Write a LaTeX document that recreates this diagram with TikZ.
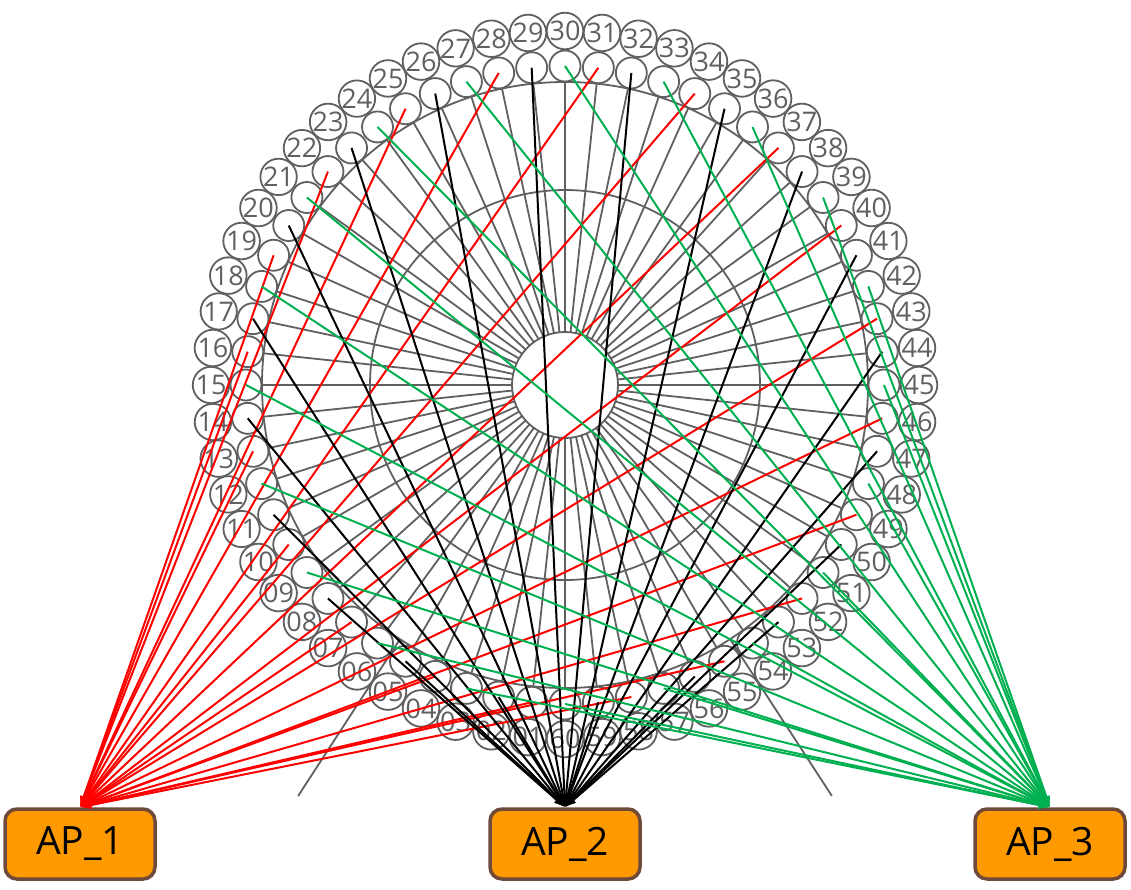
\documentclass[tikz,border=0pt]{standalone}
\usepackage{fontspec}
\setmainfont{Open Sans}
\usepackage{tikz}
\usetikzlibrary{calc}
\usetikzlibrary{arrows,arrows.meta}

\definecolor{hallgray}{HTML}{606060}
\definecolor{aporange}{HTML}{FF9900}
\definecolor{apbrown}{HTML}{6E4A3B}
\definecolor{apgreen}{HTML}{00B050}

\begin{document}
\begin{tikzpicture}[x=1pt,y=-1pt]
  \tikzset{
    seat/.style={draw=hallgray, circle, line width=1.8pt, minimum size=31pt, inner sep=0pt},
    num/.style={draw=hallgray, circle, line width=1.8pt, minimum size=34pt, inner sep=0pt, text=hallgray, font=\fontsize{27}{27}\selectfont},
    ap/.style={draw=apbrown, fill=aporange, rectangle, rounded corners=12pt, line width=3.5pt, minimum width=150pt, minimum height=70pt, font=\fontsize{39}{39}\selectfont, node distance=485pt},
    hall/.style={draw=hallgray, line width=1.8pt},
    line/.style={draw, line width=2pt, -{Latex[length=11pt,width=8pt]}},
  }
  \useasboundingbox (0,0) rectangle (1131,889);
  \coordinate (c) at (565,385);

  % rings and spokes
  \draw[hall] (c) circle[radius=53pt];
  \draw[hall] (c) circle[radius=195pt];
  \draw[hall] (c) circle[radius=303pt];
  \foreach \a in {0,6,...,354}
    \draw[hall] ($(c)+(\a:53)$) -- ($(c)+(\a:303)$);
  \draw[hall] ($(c)+(123:303)$) -- ($(c)+(123:490)$);
  \draw[hall] ($(c)+(57:303)$) -- ($(c)+(57:490)$);

  % seats and numbers
  \foreach \n in {1,...,60} {
    \node[seat] (s\n) at ($(c)+(6*\n+90:319)$) {};
    \node[num] (l\n) at ($(c)+(6*\n+90:354)$) {\ifnum\n<10 0\fi\n};
  }

  \node[ap] (ap1) at (80,844) {AP\_1};
  \node[ap, right of=ap1] (ap2) {AP\_2};
  \node[ap, right of=ap2] (ap3) {AP\_3};

  \foreach \n in {1,4,...,58}
    \path[line, red] (s\n.center) -- (ap1.north);
  \foreach \n in {2,5,...,59}
    \path[line, black] (s\n.center) -- (ap2.north);
  \foreach \n in {3,6,...,60}
    \path[line, apgreen] (s\n.center) -- (ap3.north);
\end{tikzpicture}
\end{document}
